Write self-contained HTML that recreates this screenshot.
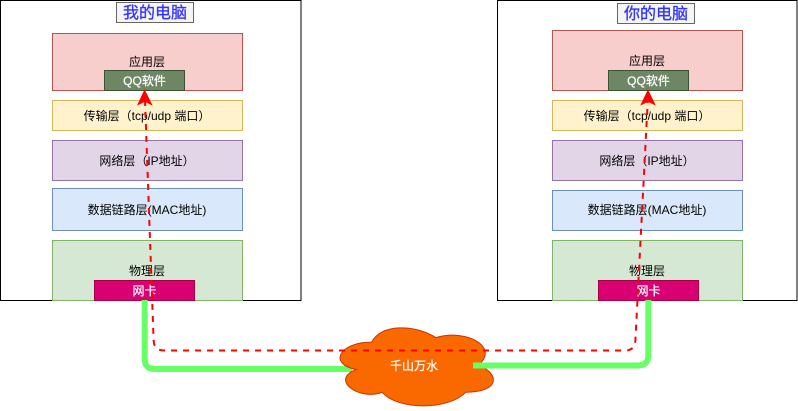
<!DOCTYPE html>
<html><head><meta charset="utf-8">
<style>
html,body{margin:0;padding:0;background:#fff;width:798px;height:411px;overflow:hidden}
svg{display:block}
text{font-family:"Liberation Sans","Noto Sans CJK SC",sans-serif;font-size:12px;text-anchor:middle;fill:#000}
.w{fill:#fff;stroke:#fff;stroke-width:.25px}
.t{font-size:16px;fill:#3333ff;stroke:#3333ff;stroke-width:.3px}
</style></head><body>
<svg width="798" height="411" viewBox="0 0 798 411" xmlns="http://www.w3.org/2000/svg">
<rect width="798" height="411" fill="#fff"/>
<rect x="0.5" y="0.5" width="300.5" height="300" fill="#fff" stroke="#000"/>
<rect x="497.5" y="0.5" width="299.5" height="300" fill="#fff" stroke="#000"/>
<rect x="116.5" y="2.5" width="77" height="20" fill="#f5f5f5" stroke="#666"/>
<text class="t" x="155" y="18">我的电脑</text>
<rect x="617.5" y="3.5" width="77" height="20" fill="#f5f5f5" stroke="#666"/>
<text class="t" x="656" y="19">你的电脑</text>

<g>
<rect x="52.5" y="33.5" width="190" height="57" fill="#f8cecc" stroke="#b85450"/>
<rect x="52.5" y="100.5" width="190" height="30" fill="#fff2cc" stroke="#d6b656"/>
<rect x="52.5" y="140.5" width="190" height="40" fill="#e1d5e7" stroke="#9673a6"/>
<rect x="52.5" y="188.5" width="190" height="42" fill="#dae8fc" stroke="#6c8ebf"/>
<rect x="52.5" y="240.5" width="190" height="60" fill="#d5e8d4" stroke="#82b366"/>
<rect x="104.5" y="70.5" width="80" height="20" fill="#6d8764" stroke="#3a5431"/>
<rect x="94.5" y="280.5" width="100" height="20" fill="#d80073" stroke="#a50040"/>
<text x="147" y="66">应用层</text>
<text class="w" x="144.5" y="85">QQ软件</text>
<text x="147" y="120">传输层（tcp/udp 端口）</text>
<text x="147" y="165">网络层（IP地址）</text>
<text x="147" y="214">数据链路层(MAC地址)</text>
<text x="147" y="275">物理层</text>
<text class="w" x="144.5" y="295">网卡</text>
</g>
<g>
<rect x="552.5" y="30.5" width="190" height="60" fill="#f8cecc" stroke="#b85450"/>
<rect x="552.5" y="100.5" width="190" height="30" fill="#fff2cc" stroke="#d6b656"/>
<rect x="552.5" y="140.5" width="190" height="40" fill="#e1d5e7" stroke="#9673a6"/>
<rect x="552.5" y="190.5" width="190" height="40" fill="#dae8fc" stroke="#6c8ebf"/>
<rect x="552.5" y="240.5" width="190" height="60" fill="#d5e8d4" stroke="#82b366"/>
<rect x="608.5" y="70.5" width="80" height="20" fill="#6d8764" stroke="#3a5431"/>
<rect x="598.5" y="280.5" width="100" height="20" fill="#d80073" stroke="#a50040"/>
<text x="647" y="65">应用层</text>
<text class="w" x="648.5" y="85">QQ软件</text>
<text x="647" y="120">传输层（tcp/udp 端口）</text>
<text x="647" y="165">网络层（IP地址）</text>
<text x="647" y="214">数据链路层(MAC地址)</text>
<text x="647" y="275">物理层</text>
<text class="w" x="648.5" y="295">网卡</text>
</g>

<path d="M144.7 300 V359 Q144.7 369 155 369 H352" fill="none" stroke="#66ff66" stroke-width="6"/>
<path transform="translate(329 319.4) scale(171 91)" vector-effect="non-scaling-stroke" d="M.25 .25C.05 .25 0 .5 .16 .55C0 .66 .18 .9 .31 .8C.4 1 .7 1 .8 .8C1 .8 1 .6 .875 .5C1 .3 .8 .1 .625 .2C.5 .05 .3 .05 .25 .25Z" fill="#fa6800" stroke="#c73500" stroke-width="1"/>
<path d="M473 365.5 H638 Q648.3 365.5 648.3 355 V300" fill="none" stroke="#66ff66" stroke-width="6"/>
<text class="w" x="414" y="370">千山万水</text>

<path d="M145 100 L153.6 340 Q153.8 350.5 164 350.5 H625 Q635 350.5 635.4 340 L647.8 100" fill="none" stroke="#ff0000" stroke-width="2" stroke-dasharray="6 6"/>
<path d="M144.6 91 L138.5 104 L144.8 101 L151 104 Z" fill="#ff0000" stroke="#ff0000" stroke-width="1.5"/>
<path d="M648 91 L641.8 104 L648 101 L654.2 104 Z" fill="#ff0000" stroke="#ff0000" stroke-width="1.5"/>
</svg>
</body></html>
